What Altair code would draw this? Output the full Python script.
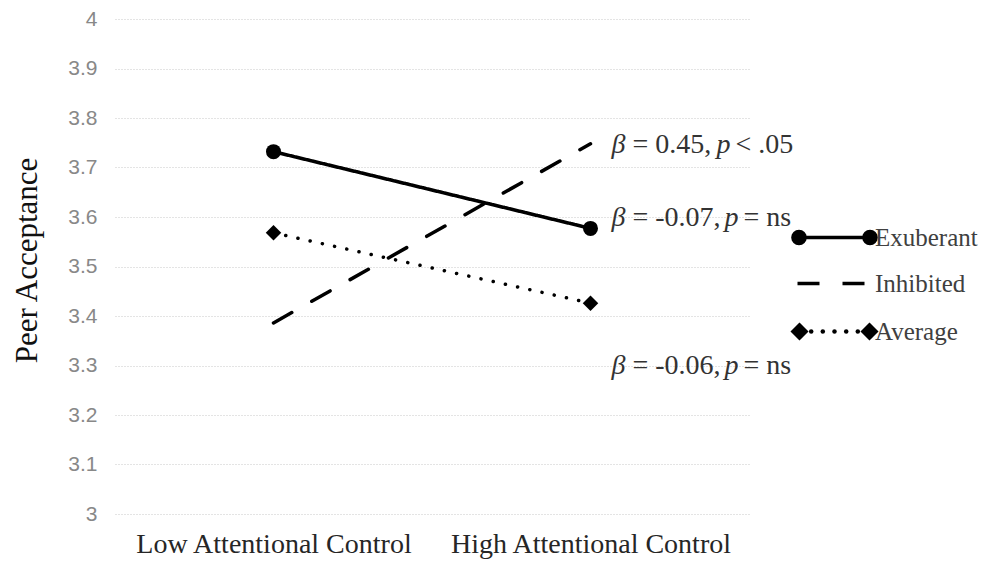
import math
import altair as alt
import pandas as pd

# ---------------- data ----------------
categories = ["Low Attentional Control", "High Attentional Control"]
series_names = ["Exuberant", "Inhibited", "Average"]
exuberant = [3.732, 3.577]
inhibited = [3.386, 3.748]
average = [3.568, 3.426]
y_ticks = [3.0, 3.1, 3.2, 3.3, 3.4, 3.5, 3.6, 3.7, 3.8, 3.9, 4.0]

ann_beta = ["= 0.45,", "= -0.07,", "= -0.06,"]
ann_p = ["< .05", "= ns", "= ns"]
ann_y = [3.746, 3.598, 3.299]

rows = []
for s, vals in zip(series_names, [exuberant, inhibited, average]):
    for c, v in zip(categories, vals):
        rows.append({"series": s, "category": c, "value": v})
df = pd.DataFrame(rows)

ann_df = pd.DataFrame({
    "row": list(range(len(ann_y))),
    "category": [categories[1]] * len(ann_y),
    "value": ann_y,
    "beta_txt": ann_beta,
    "p_txt": ann_p,
})

# ---------------- styles ----------------
SERIF = "Liberation Serif"
SANS = "Liberation Sans"


def poly(cx, r, n=16):
    pts = []
    for i in range(n):
        a = 2 * math.pi * i / n
        pts.append(f"{cx + r * math.cos(a):.3f},{r * math.sin(a):.3f}")
    return "M" + "L".join(pts) + "Z"


def disk(cx, r):
    # concentric rings so that a stroke-only symbol looks filled
    return "".join(poly(cx, rr) for rr in [r, r * 0.6, r * 0.25, 0.03])


def diamond(cx, h):
    return f"M{cx - h},0L{cx},{-h}L{cx + h},0L{cx},{h}Z"


def solid_diamond(cx, h):
    return "".join(diamond(cx, hh) for hh in [h, h * 0.6, h * 0.25, 0.03])


# legend glyphs (units of 10 px): line with end markers, as in the reference
path_ex = "M-3.55,0L3.55,0" + disk(-3.55, 0.6) + disk(3.55, 0.6)
path_in = "M-3.7,0L-1.5,0M0.8,0L3.0,0"
path_av = solid_diamond(-3.5, 0.65) + solid_diamond(3.5, 0.65) + "".join(
    poly(x, 0.04, 8) for x in [-2.33, -1.17, 0.0, 1.17, 2.33])

x_enc = alt.X(
    "category:N",
    sort=categories,
    scale=alt.Scale(type="point", padding=0.5),
    axis=alt.Axis(
        title=None, labelAngle=0, labelFont=SERIF, labelFontSize=28,
        labelColor="#262626", labelPadding=16, domain=False, ticks=False,
        grid=False, labelLimit=0,
    ),
)

y_enc = alt.Y(
    "value:Q",
    scale=alt.Scale(domain=[3, 4], nice=False, zero=False),
    axis=alt.Axis(
        values=y_ticks, format="~g", title="Peer Acceptance",
        titleFont=SERIF, titleFontSize=31, titleFontWeight="normal",
        titleColor="#111111", titleX=-88, titleY=241, titleAngle=-90,
        titleAlign="center", titleBaseline="middle",
        labelFont=SANS, labelFontSize=21, labelColor="#888888",
        labelPadding=18, domain=False, ticks=False,
        grid=True, gridColor="#c8c8c8", gridDash=[1, 2], gridWidth=1,
    ),
)

dashes = {"Exuberant": [1, 0], "Inhibited": [21, 23], "Average": [0.1, 12.4]}

line_layers = [
    alt.Chart(df).transform_filter(alt.datum.series == s).mark_line(
        strokeWidth=3.5, strokeCap="round", color="black",
        strokeDash=dashes[s],
    ).encode(x=x_enc, y=y_enc)
    for s in series_names
]

legend_layer = alt.Chart(df).mark_point(
    filled=False, color="black", strokeWidth=4, opacity=0
).encode(
    x=x_enc, y=y_enc,
    shape=alt.Shape(
        "series:N",
        scale=alt.Scale(domain=series_names,
                        range=[path_ex, path_in, path_av]),
        legend=alt.Legend(
            orient="none", legendX=707, legendY=206, title=None, padding=0,
            symbolSize=400, symbolStrokeWidth=3.6, symbolOpacity=1,
            symbolStrokeColor="black", symbolFillColor="black",
            symbolOffset=0, labelFont=SERIF, labelFontSize=25,
            labelColor="#404040", labelOffset=28, rowPadding=20,
            labelLimit=0,
        ),
    ),
)

circles = alt.Chart(df).transform_filter(
    alt.datum.series == "Exuberant"
).mark_point(shape="circle", filled=True, size=225, color="black",
             opacity=1).encode(x=x_enc, y=y_enc)

diamonds = alt.Chart(df).transform_filter(
    alt.datum.series == "Average"
).mark_point(shape="diamond", filled=True, size=240, color="black",
             opacity=1).encode(x=x_enc, y=y_enc)

# annotation pieces: italic beta / p, upright rest
txt_kw = dict(font=SERIF, fontSize=28, align="left", baseline="middle",
              color="#333333")
beta_dx = 21
num_dx = 42
p_dx = [126, 134, 134]
tail_dx = [145, 153, 153]

ann_layers = []
for i in range(len(ann_y)):
    base = alt.Chart(ann_df).transform_filter(alt.datum.row == i).encode(
        x=x_enc, y=y_enc)
    ann_layers += [
        base.mark_text(text="β", fontStyle="italic", dx=beta_dx, **txt_kw),
        base.mark_text(dx=num_dx, **txt_kw).encode(text="beta_txt:N"),
        base.mark_text(text="p", fontStyle="italic", dx=p_dx[i], **txt_kw),
        base.mark_text(dx=tail_dx[i], **txt_kw).encode(text="p_txt:N"),
    ]

chart = alt.layer(
    *line_layers, legend_layer, circles, diamonds, *ann_layers
).properties(
    width=634, height=495,
    autosize=alt.AutoSizeParams(type="none"),
    padding={"left": 115, "top": 19, "right": 239, "bottom": 49},
    background="white",
).configure_view(stroke=None)

chart.save("out.html", embed_options={"renderer": "svg", "actions": False})
